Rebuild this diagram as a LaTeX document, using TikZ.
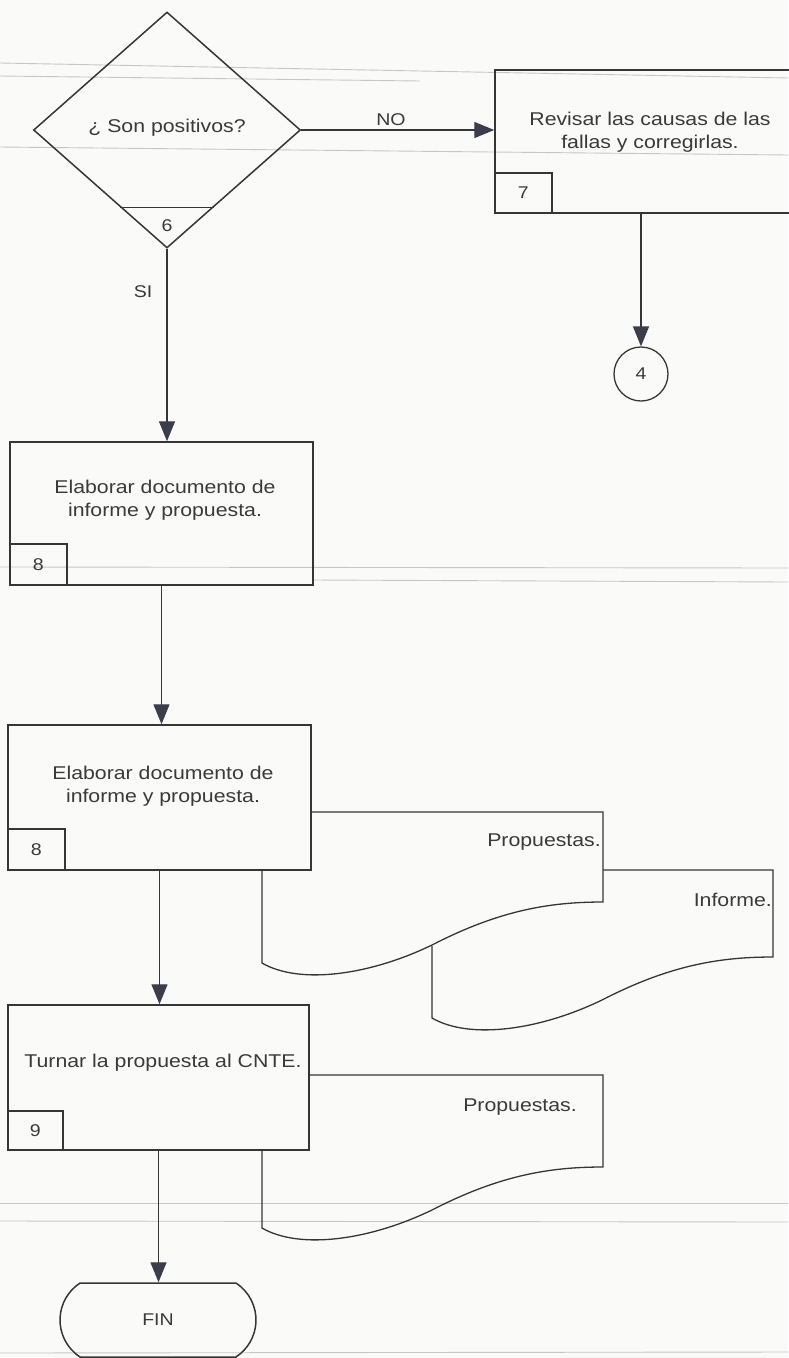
\documentclass[tikz,border=0pt]{standalone}
\usepackage{fontspec}
\setmainfont{Liberation Sans}[FakeStretch=1.15]
\usetikzlibrary{arrows.meta,shapes.geometric,shapes.misc,calc}
\definecolor{ink}{HTML}{363636}
\definecolor{txt}{HTML}{3A3A3A}
\definecolor{tip}{HTML}{3A3E4C}
\definecolor{paper}{HTML}{FAFAF8}
\definecolor{bleed}{HTML}{C6C6C6}
\begin{document}
\begin{tikzpicture}[x=1pt,y=-1pt,
  box/.style={draw=ink,line width=1.5pt,rectangle,inner sep=0pt},
  numbox/.style={draw=ink,line width=1.3pt,rectangle,inner sep=0pt,anchor=south west,
    minimum width=57pt,minimum height=40pt,font=\fontsize{17}{17}\selectfont,text=txt},
  lbl/.style={font=\fontsize{18.5}{23.5}\selectfont,text=txt,align=center,inner sep=0pt},
  small/.style={font=\fontsize{17}{17}\selectfont,text=txt,inner sep=0pt},
  flow/.style={draw=ink,line width=1.4pt,-{Triangle[width=16pt,length=20pt,color=tip]}},
  doc/.style={draw=ink,line width=1.3pt},
  bleedline/.style={draw=bleed,line width=0.9pt}
]
\fill[paper] (0,0) rectangle (788,1358);
\useasboundingbox (0,0) rectangle (788,1358);

% faint ruling showing through the sheet
\draw[bleedline] (0,63) -- (788,78);
\draw[bleedline] (0,76) -- (420,81);
\draw[bleedline] (0,147) -- (788,155);
\draw[bleedline] (0,567) -- (788,568);
\draw[bleedline] (313,580) -- (788,582);
\draw[bleedline] (0,1203) -- (788,1203);
\draw[bleedline] (0,1221) -- (788,1222);
\draw[bleedline] (0,1353) -- (788,1352);

% decision 6
\node[draw=ink,line width=1.5pt,diamond,minimum width=267pt,minimum height=236pt,inner sep=0pt] (d6) at (167,130) {};
\draw[ink,line width=1.3pt] ($(d6.south)!0.347!(d6.west)$) -- ($(d6.south)!0.347!(d6.east)$);
\node[small] (n6) at (167,226) {6};
\node[lbl] (t6) at (167,128) {¿ Son positivos?};

% step 7
\node[box,minimum width=310pt,minimum height=143pt] (p7) at (650,141.5) {};
\node[lbl] (t7) at (650,132) {Revisar las causas de las\\fallas y corregirlas.};
\node[numbox] (n7) at (p7.south west) {7};

\draw[flow] (d6.east) -- (d6.east -| p7.west);
\node[small] (no) at (391,120) {NO};

% connector 4
\node[draw=ink,line width=1.3pt,circle,minimum size=54pt,inner sep=0pt,small] (c4) at (641,374) {4};
\draw[flow] (p7.south -| c4.north) -- (c4.north);

% step 8 (first)
\node[box,minimum width=303pt,minimum height=143pt] (p8a) at (161.5,513.5) {};
\node[lbl] (t8a) at (165,500) {Elaborar documento de\\informe y propuesta.};
\node[numbox,minimum height=41pt] (n8a) at (p8a.south west) {8};

\draw[flow] (d6.south) -- (d6.south |- p8a.north);
\node[small] (si) at (143,292) {SI};

% documents produced by step 8
\draw[doc] (311,812) -- (603,812) -- (603,902)
  .. controls (550,902) and (500,910) .. (432,945)
  .. controls (370,975) and (300,985) .. (262,963) -- (262,870);
\node[lbl,anchor=east] (dp1) at (601,842) {Propuestas.};
\draw[doc] (603,870) -- (773,870) -- (773,957)
  .. controls (720,957) and (670,965) .. (602,1000)
  .. controls (540,1030) and (470,1040) .. (432,1018) -- (432,946);
\node[lbl,anchor=east] (di) at (772,900) {Informe.};

% step 8 (second)
\node[box,minimum width=303pt,minimum height=145pt,fill=paper] (p8b) at (159.5,797.5) {};
\node[lbl] (t8b) at (163,786) {Elaborar documento de\\informe y propuesta.};
\node[numbox,minimum height=41pt] (n8b) at (p8b.south west) {8};

\draw[flow] (p8a.south) -- (p8a.south |- p8b.north);

% step 9
\draw[doc] (309,1075) -- (603,1075) -- (603,1167)
  .. controls (550,1167) and (500,1175) .. (432,1210)
  .. controls (370,1240) and (300,1250) .. (262,1228) -- (262,1150);
\node[lbl,anchor=east] (dp2) at (577,1107) {Propuestas.};
\node[box,minimum width=301pt,minimum height=145pt] (p9) at (158.5,1077.5) {};
\node[lbl] (t9) at (163,1063) {Turnar la propuesta al CNTE.};
\node[numbox,minimum width=55pt,minimum height=39pt] (n9) at (p9.south west) {9};

\draw[flow] (p8b.south) -- (p8b.south |- p9.north);

% end
\node[draw=ink,line width=1.5pt,rounded rectangle,rounded rectangle arc length=114,
  minimum width=196pt,minimum height=74pt,inner sep=0pt,small] (fin) at (158,1320) {FIN};
\draw[flow] (p9.south) -- (p9.south |- fin.north);
\end{tikzpicture}
\end{document}
